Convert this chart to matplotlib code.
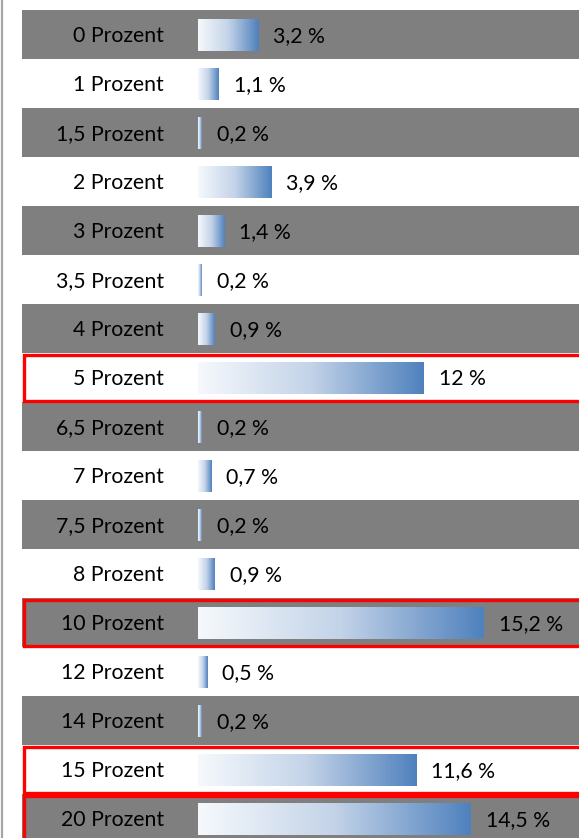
import numpy as np
import matplotlib.pyplot as plt
from matplotlib.patches import Rectangle
from matplotlib.colors import LinearSegmentedColormap

# Daten
kategorien = ["0 Prozent", "1 Prozent", "1,5 Prozent", "2 Prozent", "3 Prozent",
              "3,5 Prozent", "4 Prozent", "5 Prozent", "6,5 Prozent", "7 Prozent",
              "7,5 Prozent", "8 Prozent", "10 Prozent", "12 Prozent", "14 Prozent",
              "15 Prozent", "20 Prozent"]
werte = [3.2, 1.1, 0.2, 3.9, 1.4, 0.2, 0.9, 12, 0.2, 0.7, 0.2, 0.9, 15.2, 0.5, 0.2, 11.6, 14.5]
hervorgehoben = ["5 Prozent", "10 Prozent", "15 Prozent", "20 Prozent"]

plt.rcParams['font.family'] = ['Lato', 'DejaVu Sans']

W, H = 579, 838
px_pro_prozent = 18.8
x0_px = 198
row_px = 49
top_px = 35

fig = plt.figure(figsize=(W / 100, H / 100), dpi=100)
ax = fig.add_axes([0, 0, 1, 1])
ax.set_axis_off()

xmin = -x0_px / px_pro_prozent
xmax = (W - x0_px) / px_pro_prozent

def px2x(p):
    return (p - x0_px) / px_pro_prozent

cmap = LinearSegmentedColormap.from_list("verlauf", ["#f6f9fc", "#c3d3e8", "#4f81bd"])
gradient = np.linspace(0, 1, 256).reshape(1, -1)

# linke Linie
ax.axvline(px2x(1.5), color="#a6a6a6", lw=1.6, zorder=1)

for i, (kat, w) in enumerate(zip(kategorien, werte)):
    if i % 2 == 0:
        ax.add_patch(Rectangle((px2x(22), i - 0.5), xmax - px2x(22) + 1, 1,
                               facecolor="#7f7f7f", edgecolor="none", zorder=0))
    ax.imshow(gradient, cmap=cmap, aspect="auto", interpolation="bicubic",
              extent=[0, w, i + 0.325, i - 0.325], zorder=2)
    ax.text(px2x(164), i + 0.03, kat, ha="right", va="center", fontsize=15.3,
            color="black", zorder=3)
    ax.text(w + 15 / px_pro_prozent, i + 0.03, f"{w:g} %".replace(".", ","),
            ha="left", va="center", fontsize=15.3, color="black", zorder=3)
    if kat in hervorgehoben:
        # offener Rahmen, rechts ausserhalb des Bildes
        xl = px2x(23.5)
        xr = xmax + 1
        y1, y2 = i - 0.47, i + 0.47
        ax.plot([xr, xl, xl, xr], [y1, y1, y2, y2], color="#ff0000", lw=2.4,
                solid_joinstyle="miter", zorder=4)

ax.set_xlim(xmin, xmax)
ax.set_ylim((H - top_px) / row_px, -top_px / row_px)

plt.savefig("out.png", dpi=100)
